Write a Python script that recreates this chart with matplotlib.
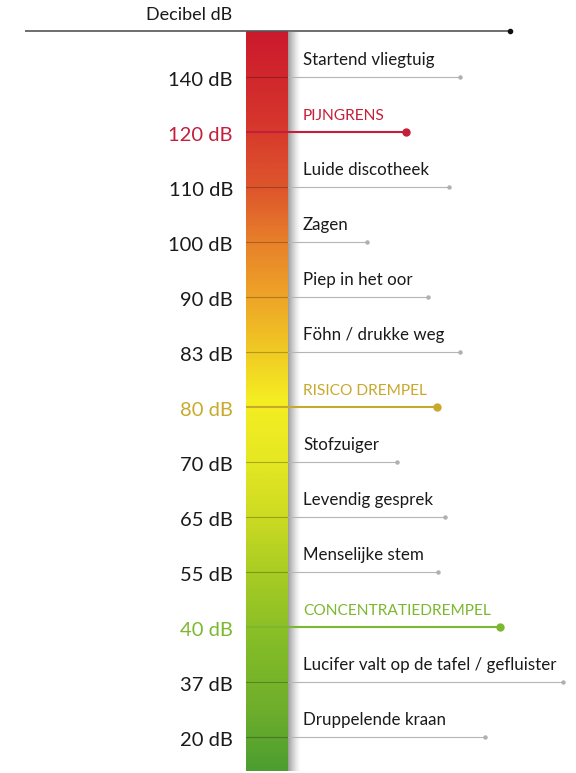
import matplotlib
matplotlib.use("Agg")
import matplotlib.pyplot as plt
import numpy as np
from matplotlib.colors import LinearSegmentedColormap

# ---- data ----
levels = ["140 dB", "120 dB", "110 dB", "100 dB", "90 dB", "83 dB", "80 dB",
          "70 dB", "65 dB", "55 dB", "40 dB", "37 dB", "20 dB"]
sources = ["Startend vliegtuig", "PIJNGRENS", "Luide discotheek", "Zagen",
           "Piep in het oor", "Föhn / drukke weg", "RISICO DREMPEL", "Stofzuiger",
           "Levendig gesprek", "Menselijke stem", "CONCENTRATIEDREMPEL",
           "Lucifer valt op de tafel / gefluister", "Druppelende kraan"]
thresholds = {"120 dB": "#c41e3a", "80 dB": "#c9a92c", "40 dB": "#7cb82f"}
title = "Decibel dB"

# ---- layout (pixel-like x, row index y) ----
line_ends = [460, 406, 449, 367, 428, 460, 437, 397, 445, 438, 500, 563, 485]
W, H = 576, 773
row0, row_h = 77, 55  # pixel y of first row, spacing

fig = plt.figure(figsize=(W / 100, H / 100), dpi=100)
ax = fig.add_axes([0, 0, 1, 1])
ax.set_xlim(0, W)
ax.set_ylim((H - row0) / row_h, -row0 / row_h)
ax.axis("off")

font = "Lato"
bar_x0, bar_x1 = 246, 288
bar_top = (31 - row0) / row_h
bar_bot = (771 - row0) / row_h

# gradient bar
stops = [(0.00, "#cb1a2c"), (0.12, "#d6352c"), (0.22, "#df5a2c"), (0.29, "#e8842a"),
         (0.36, "#eea527"), (0.43, "#f0c924"), (0.50, "#f5ee22"), (0.58, "#e6e822"),
         (0.65, "#cfdc22"), (0.74, "#a6cb24"), (0.83, "#84bc28"), (0.92, "#6eae2c"),
         (1.00, "#4c9e30")]
cmap = LinearSegmentedColormap.from_list("db", stops)
grad = np.linspace(0, 1, 400).reshape(-1, 1)
ax.imshow(grad, cmap=cmap, aspect="auto", extent=(bar_x0, bar_x1, bar_bot, bar_top),
          zorder=2, interpolation="bilinear")

# shadow on right of bar
sh = np.linspace(1, 0, 60).reshape(1, -1) ** 1.4
shadow = np.zeros((1, 60, 4))
shadow[..., :3] = 0.3
shadow[..., 3] = sh * 0.55
ax.imshow(shadow, aspect="auto", extent=(bar_x1, bar_x1 + 13, bar_bot, bar_top + 0.03),
          zorder=1, interpolation="bilinear")

# top rule
ax.plot([25, 510], [bar_top, bar_top], color="#555555", lw=1.2, zorder=3,
        solid_capstyle="butt")
ax.plot([510], [bar_top], "o", color="#111111", ms=3, zorder=4)
ax.text(232, bar_top - 0.15, title, ha="right", va="bottom", fontsize=13,
        fontfamily=font, color="#1a1a1a")

for i, (lev, src, xe) in enumerate(zip(levels, sources, line_ends)):
    y = i
    if lev in thresholds:
        c = thresholds[lev]
        ax.plot([bar_x0, xe], [y, y], color=c, lw=1.5, zorder=3, solid_capstyle="butt")
        ax.plot([xe], [y], "o", color=c, ms=5, zorder=4)
        lc, tc, fs = c, c, 11.2
    else:
        ax.plot([bar_x0, bar_x1], [y, y], color="#000000", lw=0.8, alpha=0.25, zorder=3)
        ax.plot([bar_x1, xe], [y, y], color="#b5b5b5", lw=0.8, zorder=3)
        ax.plot([xe], [y], "o", color="#b0b0b0", ms=2.2, zorder=4)
        lc, tc, fs = "#1a1a1a", "#1a1a1a", 12.2
    ax.text(233, y + 0.07, lev, ha="right", va="center", fontsize=14.5,
            fontfamily=font, color=lc)
    ax.text(303, y - 0.16, src, ha="left", va="bottom", fontsize=fs,
            fontfamily=font, color=tc)

fig.savefig("out.png", dpi=100, facecolor="white")
